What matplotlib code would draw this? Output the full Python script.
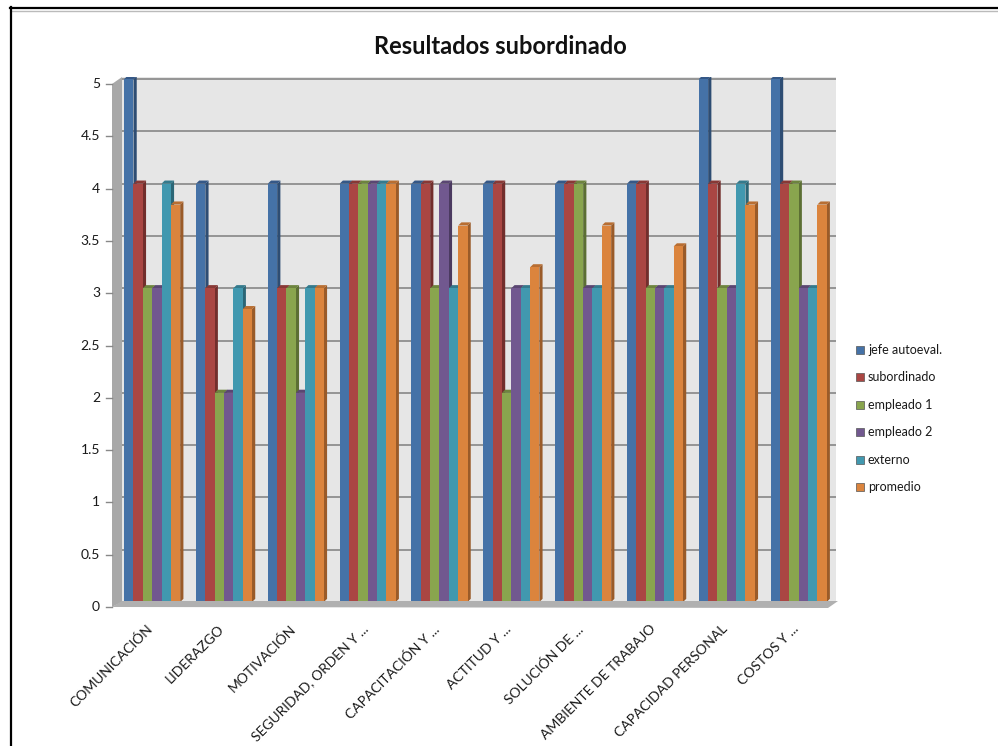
import matplotlib
matplotlib.use("Agg")
import matplotlib.pyplot as plt
from matplotlib.patches import Polygon, Rectangle
from matplotlib.lines import Line2D
from matplotlib.transforms import ScaledTranslation
import numpy as np

plt.rcParams['font.family'] = ['Lato', 'DejaVu Sans']

categories = ["COMUNICACIÓN", "LIDERAZGO", "MOTIVACIÓN", "SEGURIDAD, ORDEN Y ...",
              "CAPACITACIÓN Y ...", "ACTITUD Y ...", "SOLUCIÓN DE ...",
              "AMBIENTE DE TRABAJO", "CAPACIDAD PERSONAL", "COSTOS Y ..."]
series_names = ["jefe autoeval.", "subordinado", "empleado 1", "empleado 2", "externo", "promedio"]
jefe_autoeval = [5, 4, 4, 4, 4, 4, 4, 4, 5, 5]
subordinado = [4, 3, 3, 4, 4, 4, 4, 4, 4, 4]
empleado_1 = [3, 2, 3, 4, 3, 2, 4, 3, 3, 4]
empleado_2 = [3, 2, 2, 4, 4, 3, 3, 3, 3, 3]
externo = [4, 3, 3, 4, 3, 3, 3, 3, 4, 3]
promedio = [3.8, 2.8, 3.0, 4.0, 3.6, 3.2, 3.6, 3.4, 3.8, 3.8]
y_ticks = [0, 0.5, 1, 1.5, 2, 2.5, 3, 3.5, 4, 4.5, 5]
y_tick_labels = ["0", "0.5", "1", "1.5", "2", "2.5", "3", "3.5", "4", "4.5", "5"]

all_series = [jefe_autoeval, subordinado, empleado_1, empleado_2, externo, promedio]
face_colors = ["#4572A7", "#AA4643", "#89A54E", "#71588F", "#4198AF", "#DB843D"]
side_colors = ["#2E4D73", "#722E2C", "#5C6F34", "#4B3A60", "#2B6676", "#9A5B29"]
top_colors = ["#355887", "#883835", "#6D843E", "#5A4672", "#347A8C", "#B86E32"]

W, H = 998, 746
fig = plt.figure(figsize=(W / 100, H / 100), dpi=100)
fig.patch.set_facecolor("white")

def fx(px):
    return px / W

def fy(py):
    return 1 - py / H

ax_l, ax_r, ax_t, ax_b = 122, 836, 77, 602
ax = fig.add_axes([fx(ax_l), fy(ax_b), fx(ax_r) - fx(ax_l), fy(ax_t) - fy(ax_b)])
ax.set_facecolor("#E6E6E6")
ax.set_xlim(-0.42, 9.52)
ax.set_ylim(0, 5.02)
for s in ax.spines.values():
    s.set_visible(False)
ax.set_yticks(y_ticks)
ax.set_yticklabels([])
ax.tick_params(axis='y', length=0)
ax.yaxis.grid(True, color="#949494", linewidth=1.4)
ax.set_axisbelow(True)

n_series = len(all_series)
bar_w = 0.13
x = np.arange(len(categories))
dx = 0.045
dy = 0.03

for i, (vals, fc, sc, tc) in enumerate(zip(all_series, face_colors, side_colors, top_colors)):
    xs = x + (i - (n_series - 1) / 2) * bar_w
    z = 3 + i
    bars = ax.bar(xs, vals, width=bar_w, color=fc, edgecolor="none", zorder=z + 0.5)
    for b, v in zip(bars, vals):
        x0 = b.get_x()
        x1 = x0 + b.get_width()
        side = Polygon([(x1, 0), (x1 + dx, dy), (x1 + dx, v + dy), (x1, v)],
                       closed=True, facecolor=sc, edgecolor="none", zorder=z)
        top = Polygon([(x0, v), (x0 + dx, v + dy), (x1 + dx, v + dy), (x1, v)],
                      closed=True, facecolor=tc, edgecolor="none", zorder=z)
        ax.add_patch(side)
        ax.add_patch(top)

ax.set_xticks(x)
ax.set_xticklabels(categories, rotation=45, ha="right", rotation_mode="anchor",
                   fontsize=10, color="#1A1A1A")
ax.tick_params(axis='x', length=0, pad=15)
shift = ScaledTranslation(-6 / 100, 0, fig.dpi_scale_trans)
for lbl in ax.get_xticklabels():
    lbl.set_transform(lbl.get_transform() + shift)

# left side wall and floor
fig.patches.append(Polygon([(fx(112), fy(84)), (fx(122), fy(77)), (fx(122), fy(602)), (fx(112), fy(607))],
                           closed=True, facecolor="#A8A8A8", edgecolor="none", transform=fig.transFigure))
fig.patches.append(Polygon([(fx(112), fy(607)), (fx(122), fy(601)), (fx(838), fy(601)), (fx(828), fy(608))],
                           closed=True, facecolor="#B0B0B0", edgecolor="none", transform=fig.transFigure))

# y tick marks and labels along the side wall
for t, lab in zip(y_ticks, y_tick_labels):
    py = ax_b - (t / 5.02) * (ax_b - ax_t) + 5
    fig.add_artist(Line2D([fx(106), fx(112)], [fy(py), fy(py)], color="#888888", lw=1,
                          transform=fig.transFigure))
    fig.text(fx(100), fy(py), lab, ha="right", va="center", fontsize=10, color="#1A1A1A")

# title
fig.text(fx(500), fy(46), "Resultados subordinado", ha="center", va="center",
         fontsize=17, fontweight="bold", color="#111111")

# legend
legend_y0 = 350
legend_step = 27.4
for i, (name, fc) in enumerate(zip(series_names, face_colors)):
    py = legend_y0 + i * legend_step
    fig.patches.append(Rectangle((fx(856), fy(py + 4)), fx(8), 8 / H, facecolor=fc,
                                 edgecolor="#555555", lw=0.5, transform=fig.transFigure))
    fig.text(fx(868), fy(py), name, ha="left", va="center", fontsize=9, color="#1A1A1A")

# frame lines
fig.add_artist(Line2D([fx(10), fx(998)], [fy(7.5), fy(7.5)], color="black", lw=1.6, transform=fig.transFigure))
fig.add_artist(Line2D([fx(11), fx(998)], [fy(10.5), fy(10.5)], color="#BBBBBB", lw=1, transform=fig.transFigure))
fig.add_artist(Line2D([fx(10.5), fx(10.5)], [fy(7), fy(746)], color="black", lw=1.6, transform=fig.transFigure))

fig.savefig("out.png", dpi=100, facecolor="white")
